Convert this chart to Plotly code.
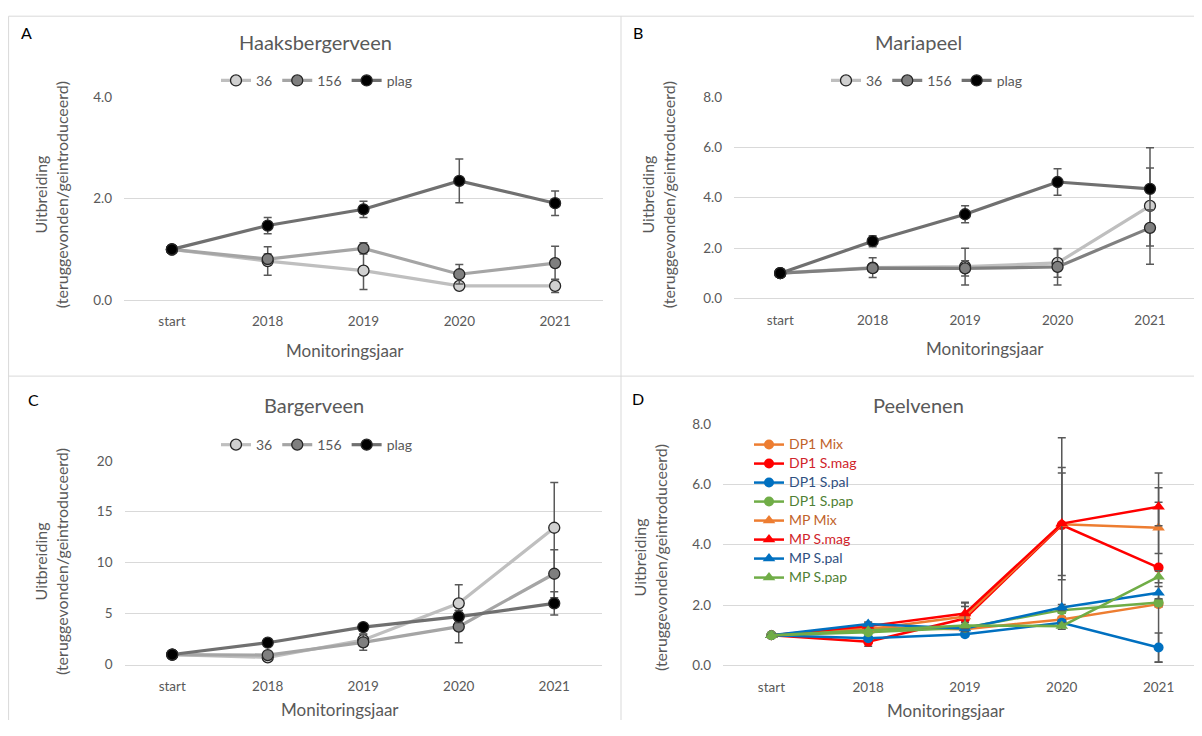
import plotly.graph_objects as go

# page is 1202x736; browser body margin is 8px, so figure is 16px smaller
PW, PH = 1202, 736
OFF = 8
W, H = PW - 2 * OFF, PH - 2 * OFF
VS = 0.978  # observed vertical squeeze of the photographed page

categories = ["start", "2018", "2019", "2020", "2021"]

# Panel A - Haaksbergerveen
a_36 = [1.0, 0.77, 0.58, 0.28, 0.28]
a_36_err = [0, 0.28, 0.37, 0.05, 0.13]
a_156 = [1.0, 0.81, 1.02, 0.51, 0.73]
a_156_err = [0, 0.10, 0.11, 0.19, 0.33]
a_plag = [1.0, 1.47, 1.79, 2.35, 1.91]
a_plag_err = [0, 0.16, 0.16, 0.43, 0.24]

# Panel B - Mariapeel
b_36 = [1.0, 1.22, 1.26, 1.41, 3.67]
b_36_err = [0, 0.39, 0.73, 0.57, 2.31]
b_156 = [1.0, 1.20, 1.19, 1.25, 2.80]
b_156_err = [0, 0.12, 0.30, 0.72, 0.72]
b_plag = [1.0, 2.27, 3.34, 4.62, 4.35]
b_plag_err = [0, 0.22, 0.34, 0.53, 0.83]

# Panel C - Bargerveen
c_36 = [1.0, 0.72, 2.42, 6.02, 13.43]
c_36_err = [0, 0.10, 0.60, 1.82, 4.45]
c_156 = [1.0, 0.95, 2.20, 3.73, 8.92]
c_156_err = [0, 0.10, 0.78, 1.58, 2.35]
c_plag = [1.0, 2.16, 3.69, 4.71, 6.02]
c_plag_err = [0, 0.20, 0.30, 0.60, 1.14]

# Panel D - Peelvenen
d_names = ["DP1 Mix", "DP1 S.mag", "DP1 S.pal", "DP1 S.pap",
           "MP Mix", "MP S.mag", "MP S.pal", "MP S.pap"]
d_values = [
    [1.0, 1.25, 1.20, 1.52, 2.03],
    [1.0, 0.78, 1.55, 4.65, 3.24],
    [1.0, 0.90, 1.03, 1.41, 0.59],
    [1.0, 1.10, 1.25, 1.83, 2.08],
    [1.0, 1.20, 1.62, 4.68, 4.56],
    [1.0, 1.30, 1.72, 4.70, 5.26],
    [1.0, 1.37, 1.22, 1.92, 2.41],
    [1.0, 1.15, 1.32, 1.30, 2.94],
]
d_errors = [
    [0, 0.05, 0.05, 0.10, 0.10],
    [0, 0.15, 0.40, 2.90, 3.14],
    [0, 0.05, 0.05, 0.10, 0.48],
    [0, 0.05, 0.05, 0.10, 0.10],
    [0, 0.10, 0.45, 1.70, 0.85],
    [0, 0.10, 0.37, 1.86, 0.63],
    [0, 0.07, 0.10, 0.10, 0.20],
    [0, 0.05, 0.10, 0.10, 0.20],
]
d_colors = ["#ED7D31", "#FF0000", "#0070C0", "#70AD47"] * 2
d_text_colors = ["#c0622a", "#d0232a", "#2f4f7f", "#4f7f34"] * 2
d_symbols = ["circle"] * 4 + ["triangle-up"] * 4

FONT = "Lato"
GRAY = "#595959"
GRID = "#d9d9d9"
ERR = "#595959"


def px_x(x):
    return min(max((x - OFF) / W, 0), 1)


def px_y(y):
    yd = (y - 8) / VS
    return min(max(1 - (yd - OFF) / H, 0), 1)


fig = go.Figure()

panels_gray = [
    ("x", "y", "legend", [a_36, a_156, a_plag], [a_36_err, a_156_err, a_plag_err], "#a5a5a5"),
    ("x2", "y2", "legend2", [b_36, b_156, b_plag], [b_36_err, b_156_err, b_plag_err], "#808080"),
    ("x3", "y3", "legend3", [c_36, c_156, c_plag], [c_36_err, c_156_err, c_plag_err], "#a5a5a5"),
]
names = ["36", "156", "plag"]
fills = ["#d0d0d0", "#7f7f7f", "#000000"]
for xa, ya, lg, vals, errs, col156 in panels_gray:
    lcols = ["#bfbfbf", col156, "#707070"]
    for i in range(3):
        fig.add_trace(go.Scatter(
            x=categories, y=vals[i], name=names[i], mode="lines+markers",
            xaxis=xa, yaxis=ya, legend=lg,
            line=dict(color=lcols[i], width=3.2),
            marker=dict(size=11, color=fills[i], line=dict(color="#262626", width=1.3)),
            error_y=dict(type="data", array=errs[i], color=ERR, thickness=1.5, width=4),
        ))

for i in range(8):
    fig.add_trace(go.Scatter(
        x=categories, y=d_values[i],
        name='<span style="color:%s;font-size:14px">%s</span>' % (d_text_colors[i], d_names[i]),
        mode="lines+markers", xaxis="x4", yaxis="y4", legend="legend4",
        line=dict(color=d_colors[i], width=2.5),
        marker=dict(size=10 if d_symbols[i] == "circle" else 11, color=d_colors[i], symbol=d_symbols[i]),
        error_y=dict(type="data", array=d_errors[i], color=ERR, thickness=1.5, width=4),
    ))

tickfont = dict(family=FONT, size=13.5, color=GRAY)


def xaxis(x0, x1, rng=(-0.5, 4.5)):
    return dict(domain=[px_x(x0), px_x(x1)], type="category", categoryorder="array",
                categoryarray=categories, range=list(rng), showgrid=False,
                showline=True, linecolor=GRID, linewidth=1, ticks="",
                tickfont=tickfont, ticklabelstandoff=9, fixedrange=True)


def yaxis(ytop, ybot, rng, dtick, fmt):
    return dict(domain=[px_y(ybot), px_y(ytop)], range=rng, dtick=dtick, tickformat=fmt,
                showgrid=True, gridcolor=GRID, gridwidth=1, zeroline=False,
                showline=False, ticks="", tickfont=tickfont, ticklabelstandoff=11,
                fixedrange=True)


fig.update_layout(
    width=W, height=H, margin=dict(l=0, r=0, t=0, b=0),
    paper_bgcolor="white", plot_bgcolor="white",
    font=dict(family=FONT, color=GRAY),
    xaxis=dict(xaxis(124, 603), anchor="y"),
    yaxis=dict(yaxis(97, 300, [0, 4], 2, ".1f"), anchor="x"),
    xaxis2=dict(xaxis(734, 1194, (-0.5, 4.476)), anchor="y2"),
    yaxis2=dict(yaxis(96.7, 298.3, [0, 8], 2, ".1f"), anchor="x2"),
    xaxis3=dict(xaxis(124.5, 602), anchor="y3"),
    yaxis3=dict(yaxis(460.7, 664.7, [0, 20], 5, "d"), anchor="x3"),
    xaxis4=dict(xaxis(723, 1194, (-0.5, 4.366)), anchor="y4"),
    yaxis4=dict(yaxis(424, 665.3, [0, 8], 2, ".1f"), anchor="x4"),
    showlegend=True,
)

legfont = dict(family=FONT, size=14, color=GRAY)
for key, x0, y0 in [("legend", 216, 80.7), ("legend2", 826, 80.7), ("legend3", 216, 445)]:
    fig.layout[key] = dict(orientation="h", x=px_x(x0), y=px_y(y0), xanchor="left",
                           yanchor="middle", font=legfont, bgcolor="rgba(0,0,0,0)",
                           itemclick=False, itemdoubleclick=False, traceorder="normal")
fig.layout["legend4"] = dict(orientation="v", x=px_x(749), y=px_y(430), xanchor="left",
                             yanchor="top", font=dict(family=FONT, size=12, color=GRAY),
                             bgcolor="rgba(0,0,0,0)", tracegroupgap=0,
                             itemclick=False, itemdoubleclick=False, traceorder="normal")

ann = []


def text(x, y, s, size, color=GRAY, angle=0):
    ann.append(dict(x=px_x(x), y=px_y(y), xref="paper", yref="paper", text=s,
                    showarrow=False, textangle=angle, xanchor="center", yanchor="middle",
                    font=dict(family=FONT, size=size, color=color)))


ytitle = "Uitbreiding<br>(teruggevonden/geintroduceerd)"
# panel letters
text(26, 32, "A", 16, "#000000")
text(638, 32, "B", 16, "#000000")
text(33, 399, "C", 16, "#000000")
text(638, 398, "D", 16, "#000000")
# titles
text(315, 42, "Haaksbergerveen", 20)
text(918, 42, "Mariapeel", 20)
text(314, 405, "Bargerveen", 20)
text(918, 405, "Peelvenen", 20)
# axis titles
text(345, 350, "Monitoringsjaar", 17)
text(985, 348, "Monitoringsjaar", 17)
text(340, 709, "Monitoringsjaar", 17)
text(946, 710, "Monitoringsjaar", 17)
text(51, 195, ytitle, 16, angle=-90)
text(658, 195, ytitle, 16, angle=-90)
text(51, 562, ytitle, 16, angle=-90)
text(650, 558, ytitle, 16, angle=-90)
fig.update_layout(annotations=ann)

shapes = []
for (x0, y0, x1, y1) in [(8.6, 16, 8.6, 736), (8.6, 16, 1202, 16), (621, 16, 621, 736),
                         (8.6, 376, 1202, 376)]:
    shapes.append(dict(type="line", xref="paper", yref="paper",
                       x0=px_x(x0), y0=px_y(y0), x1=px_x(x1), y1=px_y(y1),
                       line=dict(color=GRID, width=1)))
fig.update_layout(shapes=shapes)

fig.write_html("out.html")
